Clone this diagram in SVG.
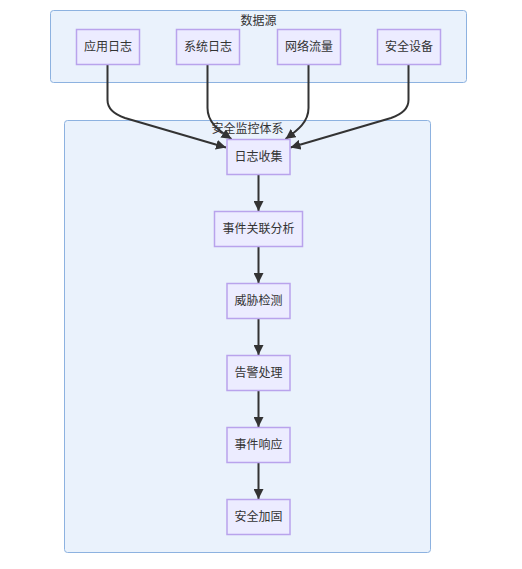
<svg xmlns="http://www.w3.org/2000/svg" width="522" height="569" viewBox="0 0 522 569">
<style>
.cluster{fill:#eaf2fc;stroke:#8db2e0;stroke-width:1}
.node rect{fill:#ececff;stroke:#b9a3ec;stroke-width:1.5}
text{font-family:"Noto Sans CJK SC","Liberation Sans",sans-serif;font-size:12px;fill:#333;text-anchor:middle}
.edge{fill:none;stroke:#333;stroke-width:2}
</style>
<defs>
<marker id="ah" viewBox="0 0 10 10" refX="10" refY="5" markerWidth="10" markerHeight="10" markerUnits="userSpaceOnUse" orient="auto">
<path d="M0,0 L10,5 L0,10 z" fill="#333"/>
</marker>
</defs>
<g id="cluster-datasource">
<rect class="cluster" x="50.5" y="10.5" width="416" height="72" rx="3"/>
<text x="258.5" y="25">数据源</text>
</g>
<g id="cluster-monitor">
<rect class="cluster" x="64.5" y="120.5" width="366" height="432" rx="3"/>
<text x="247.5" y="133">安全监控体系</text>
</g>
<g id="connectors">
<path class="edge" marker-end="url(#ah)" d="M107.5,64.5 L107.5,100 Q107.5,112 125,118 L226,147.5"/>
<path class="edge" marker-end="url(#ah)" d="M207.5,64.5 L207.5,108 C207.5,122 218,130 231.5,139"/>
<path class="edge" marker-end="url(#ah)" d="M308.5,64.5 L308.5,108 C308.5,122 298,130 285.5,139"/>
<path class="edge" marker-end="url(#ah)" d="M408.5,64.5 L408.5,100 Q408.5,112 391,118 L290.5,147.5"/>
<path class="edge" marker-end="url(#ah)" d="M258.5,174.5 L258.5,211"/>
<path class="edge" marker-end="url(#ah)" d="M258.5,246.5 L258.5,283"/>
<path class="edge" marker-end="url(#ah)" d="M258.5,318.5 L258.5,355"/>
<path class="edge" marker-end="url(#ah)" d="M258.5,390.5 L258.5,427"/>
<path class="edge" marker-end="url(#ah)" d="M258.5,462.5 L258.5,499"/>
</g>
<g id="node-applog" class="node"><rect x="76.5" y="29.5" width="63" height="35"/><text x="108" y="51">应用日志</text></g>
<g id="node-syslog" class="node"><rect x="176.5" y="29.5" width="63" height="35"/><text x="208" y="51">系统日志</text></g>
<g id="node-netflow" class="node"><rect x="277.5" y="29.5" width="63" height="35"/><text x="309" y="51">网络流量</text></g>
<g id="node-secdev" class="node"><rect x="377.5" y="29.5" width="63" height="35"/><text x="409" y="51">安全设备</text></g>
<g id="node-collect" class="node"><rect x="227" y="139.5" width="63" height="35"/><text x="258.5" y="161">日志收集</text></g>
<g id="node-correlate" class="node"><rect x="214.5" y="211.5" width="88" height="35"/><text x="258.5" y="233">事件关联分析</text></g>
<g id="node-detect" class="node"><rect x="227" y="283.5" width="63" height="35"/><text x="258.5" y="305">威胁检测</text></g>
<g id="node-alert" class="node"><rect x="227" y="355.5" width="63" height="35"/><text x="258.5" y="377">告警处理</text></g>
<g id="node-respond" class="node"><rect x="227" y="427.5" width="63" height="35"/><text x="258.5" y="449">事件响应</text></g>
<g id="node-harden" class="node"><rect x="227" y="499.5" width="63" height="35"/><text x="258.5" y="521">安全加固</text></g>
</svg>
